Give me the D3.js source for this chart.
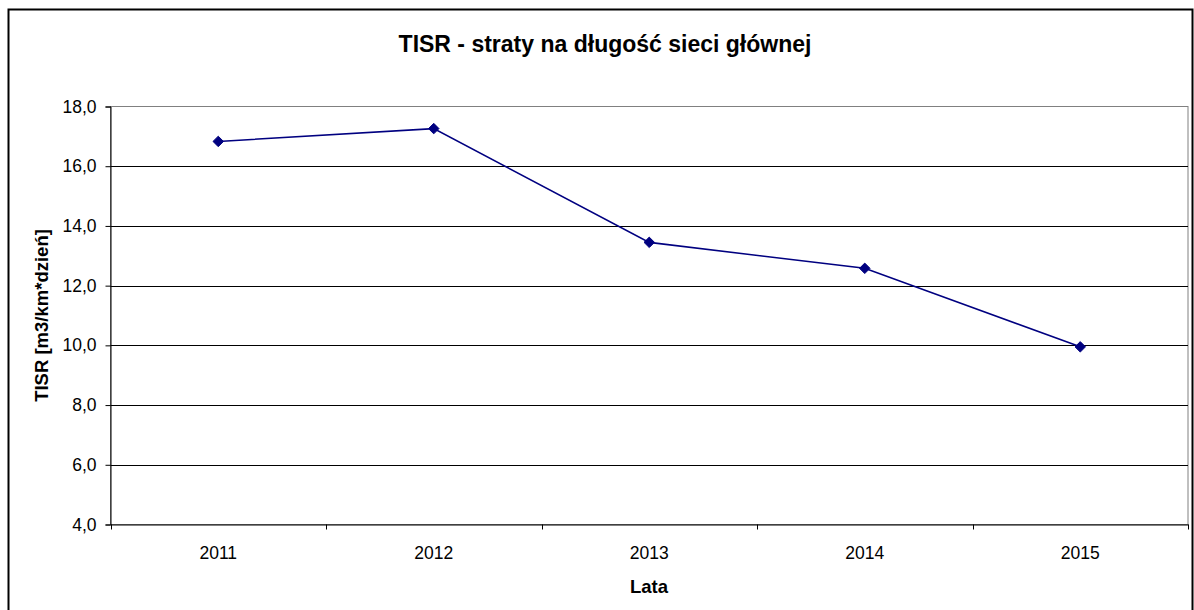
<!DOCTYPE html>
<html lang="pl">
<head>
<meta charset="utf-8">
<title>TISR - straty na długość sieci głównej</title>
<script src="https://d3js.org/d3.v7.min.js"></script>
<style>
  body { margin: 0; background: #fff; }
  svg { display: block; font-family: "Liberation Sans", Arial, sans-serif; }
</style>
</head>
<body>
<div id="chart"></div>
<script>
// data
var years = ["2011", "2012", "2013", "2014", "2015"];
var tisr = [16.83, 17.26, 13.45, 12.58, 9.95];
var yTicks = [4, 6, 8, 10, 12, 14, 16, 18];

var width = 1194, height = 610;
var pLeft = 110.5, pRight = 1188, pTop = 106.5, pBottom = 524.5;

var svg = d3.select("#chart").append("svg")
    .attr("width", width)
    .attr("height", height);

// outer frame
svg.append("rect")
    .attr("x", 8.5).attr("y", 9.5)
    .attr("width", 1184).attr("height", 640)
    .attr("fill", "none")
    .attr("stroke", "#000")
    .attr("stroke-width", 2);

var x = d3.scaleBand().domain(years).range([pLeft, pRight]);
var y = d3.scaleLinear().domain([4, 18]).range([pBottom, pTop]);
var fmt = function(d) { return d3.format(".1f")(d).replace(".", ","); };

// plot area border (gray)
svg.append("rect")
    .attr("x", pLeft).attr("y", pTop)
    .attr("width", pRight - pLeft).attr("height", pBottom - pTop)
    .attr("fill", "none")
    .attr("stroke", "#808080")
    .attr("stroke-width", 1);

// gridlines
svg.append("g").selectAll("line")
    .data(yTicks.filter(function(d) { return d > 4 && d < 18; }))
    .enter().append("line")
    .attr("x1", pLeft).attr("x2", pRight)
    .attr("y1", function(d) { return Math.round(y(d)) + 0.5; })
    .attr("y2", function(d) { return Math.round(y(d)) + 0.5; })
    .attr("stroke", "#000")
    .attr("stroke-width", 1);

// y axis
var yAxis = svg.append("g")
    .attr("transform", "translate(" + pLeft + ",0)")
    .call(d3.axisLeft(y).tickValues(yTicks).tickFormat(fmt).tickSize(5).tickPadding(9));
yAxis.select(".domain").attr("stroke", "#000");
yAxis.selectAll("text").attr("font-size", 17.5).attr("fill", "#000").attr("font-family", null);

// x axis, ticks on category boundaries
var xAxis = svg.append("g")
    .attr("transform", "translate(0," + pBottom + ")")
    .call(d3.axisBottom(x).tickSize(0).tickPadding(22));
xAxis.select(".domain").attr("stroke", "#000");
xAxis.selectAll("text").attr("font-size", 17.5).attr("fill", "#000").attr("font-family", null);
xAxis.selectAll(".bound")
    .data(years.map(function(d) { return x(d); }).concat([pRight]))
    .enter().append("line")
    .attr("x1", function(d) { return Math.round(d) + 0.5; })
    .attr("x2", function(d) { return Math.round(d) + 0.5; })
    .attr("y1", 0).attr("y2", 5)
    .attr("stroke", "#000");

// line
var line = d3.line()
    .x(function(d, i) { return x(years[i]) + x.bandwidth() / 2; })
    .y(function(d) { return y(d); });

svg.append("path")
    .datum(tisr)
    .attr("d", line)
    .attr("fill", "none")
    .attr("stroke", "#000080")
    .attr("stroke-width", 1.6);

// markers
svg.append("g").selectAll("path")
    .data(tisr)
    .enter().append("path")
    .attr("transform", function(d, i) {
      return "translate(" + (x(years[i]) + x.bandwidth() / 2) + "," + y(d) + ")";
    })
    .attr("d", d3.symbol().type(d3.symbolDiamond2).size(70))
    .attr("fill", "#000080")
    .attr("stroke", "#000080");

// title
svg.append("text")
    .attr("x", 605).attr("y", 52)
    .attr("text-anchor", "middle")
    .attr("font-size", 23)
    .attr("font-weight", "bold")
    .text("TISR - straty na długość sieci głównej");

// axis titles
svg.append("text")
    .attr("x", 649).attr("y", 593)
    .attr("text-anchor", "middle")
    .attr("font-size", 18.5)
    .attr("font-weight", "bold")
    .text("Lata");

svg.append("text")
    .attr("transform", "translate(48," + ((pTop + pBottom) / 2) + ") rotate(-90)")
    .attr("text-anchor", "middle")
    .attr("font-size", 18.5)
    .attr("font-weight", "bold")
    .text("TISR [m3/km*dzień]");
</script>
</body>
</html>
